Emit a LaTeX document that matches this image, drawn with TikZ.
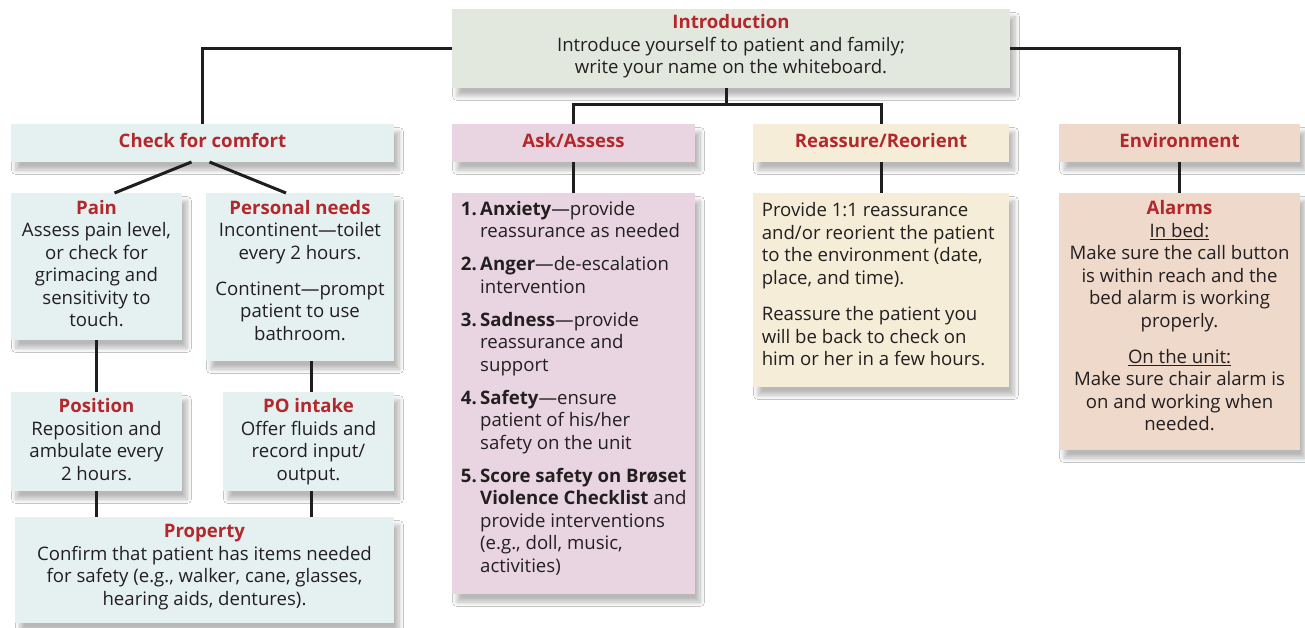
\documentclass[tikz,border=0pt]{standalone}
\usepackage{fontspec}
\setmainfont{Open Sans}
\usetikzlibrary{calc,shadows.blur}
\definecolor{txtc}{HTML}{231F20}
\definecolor{redc}{HTML}{B2282C}
\definecolor{introF}{HTML}{E3E8DF}
\definecolor{blueF}{HTML}{E5F1F1}
\definecolor{pinkF}{HTML}{E8D5E1}
\definecolor{creamF}{HTML}{F6EDD8}
\definecolor{peachF}{HTML}{EFD9CB}
\definecolor{lineC}{HTML}{1E1E1E}
\newcommand\hd[1]{\textcolor{redc}{\bfseries #1}}
\newcommand\nm[1]{\makebox[19.3pt][l]{\bfseries #1}}
\newcommand\ind{\hspace*{19.3pt}}
\newcommand\FCbox[6]{\node[box=#6, minimum width={(#4)-(#2)}, minimum height={(#5)-(#3)}] (#1) at ({((#2)+(#4))/2},{((#3)+(#5))/2}) {};}
\begin{document}
\begin{tikzpicture}[x=1pt,y=-1pt,
  box/.style={fill=#1, draw=none, inner sep=0pt, outer sep=0pt,
    blur shadow={shadow xshift=5pt, shadow yshift=-8pt, shadow blur radius=4.5pt, shadow blur steps=8, shadow opacity=28}},
  txt/.style={inner sep=0pt, text=txtc, font=\fontsize{18.6}{22.5}\selectfont, align=center},
  conn/.style={draw=lineC, line width=3pt}]
\useasboundingbox (0,0) rectangle (1305,628);
\fill[white] (0,0) rectangle (1305,628);
% boxes
\FCbox{intro}{452}{9}{1010}{88}{introF}
\FCbox{check}{11}{124}{394}{162}{blueF}
\FCbox{ask}{452}{124}{695}{162}{pinkF}
\FCbox{reass}{753}{124}{1009}{162}{creamF}
\FCbox{env}{1059}{124}{1300}{162}{peachF}
\FCbox{pain}{11}{193}{182}{340}{blueF}
\FCbox{pers}{206}{193}{394}{361}{blueF}
\FCbox{posn}{11}{392}{182}{491}{blueF}
\FCbox{po}{223}{392}{394}{491}{blueF}
\FCbox{prop}{15}{517}{394}{623}{blueF}
\FCbox{askc}{452}{193}{695}{594}{pinkF}
\FCbox{reassc}{753}{193}{1009}{387}{creamF}
\FCbox{envc}{1059}{193}{1300}{450}{peachF}
% connectors
\coordinate (jn) at (726.5,105);
\coordinate (poT) at ($(po.north)+(3,0)$);
\coordinate (poB) at ($(po.south)+(3,0)$);
\draw[conn] (intro.west) -| (check.north);
\draw[conn] (intro.east) -| (env.north);
\draw[conn] (intro.south -| jn) -- (jn);
\draw[conn] (ask.north) |- (jn) -| (reass.north);
\draw[conn] (ask.south) -- (askc.north);
\draw[conn] (reass.south) -- (reassc.north);
\draw[conn] (env.south) -- (envc.north);
\draw[conn] ($(check.south)+(-11,0)$) -- ($(pain.north)+(18,0)$);
\draw[conn] ($(check.south)+(7,0)$) -- ($(pers.north)+(-14,0)$);
\draw[conn] (pain.south) -- (posn.north);
\draw[conn] (posn.south) -- (posn.south |- prop.north);
\draw[conn] (poT |- pers.south) -- (poT);
\draw[conn] (poB) -- (poB |- prop.north);
% texts (anchor base = baseline of the last line)
\node[txt, anchor=base] (tintro) at (731,74) {\hd{Introduction}\\Introduce yourself to patient and family;\\write your name on the whiteboard.};
\node[txt, anchor=base] (tcheck) at (202.5,147.7) {\hd{Check for comfort}};
\node[txt, anchor=base] (task) at (573.5,147.7) {\hd{Ask/Assess}};
\node[txt, anchor=base] (treass) at (881,147.7) {\hd{Reassure/Reorient}};
\node[txt, anchor=base] (tenv) at (1179.5,147.7) {\hd{Environment}};
\node[txt, anchor=base] (tpain) at (96.5,326.7) {\hd{Pain}\\Assess pain level,\\or check for\\grimacing and\\sensitivity to\\touch.};
\node[txt, anchor=base] (tpers) at (300,340) {\hd{Personal needs}\\Incontinent—toilet\\every 2 hours.\\[13.5pt]Continent—prompt\\patient to use\\bathroom.};
\node[txt, anchor=base] (tposn) at (96.5,480) {\hd{Position}\\Reposition and\\ambulate every\\2 hours.};
\node[txt, anchor=base] (tpo) at (308.5,480) {\hd{PO intake}\\Offer fluids and\\record input/\\output.};
\node[txt, anchor=base] (tprop) at (204.5,605) {\hd{Property}\\Confirm that patient has items needed\\for safety (e.g., walker, cane, glasses,\\hearing aids, dentures).};
\node[txt, align=left, anchor=base west] (taskc) at (460.7,572.3) {%
\nm{1.}\textbf{Anxiety}—provide\\
\ind reassurance as needed\\[10.5pt]
\nm{2.}\textbf{Anger}—de-escalation\\
\ind intervention\\[10.5pt]
\nm{3.}\textbf{Sadness}—provide\\
\ind reassurance and\\
\ind support\\[10.5pt]
\nm{4.}\textbf{Safety}—ensure\\
\ind patient of his/her\\
\ind safety on the unit\\[10.5pt]
\nm{5.}\textbf{Score safety on Brøset}\\
\ind\textbf{Violence Checklist} and\\
\ind provide interventions\\
\ind (e.g., doll, music,\\
\ind activities)};
\node[txt, align=left, anchor=base west] (treassc) at (761.6,365.7) {Provide 1:1 reassurance\\and/or reorient the patient\\to the environment (date,\\place, and time).\\[14pt]Reassure the patient you\\will be back to check on\\him or her in a few hours.};
\node[txt, anchor=base] (tenvc) at (1179.5,430.7) {\hd{Alarms}\\\underline{In bed:}\\Make sure the call button\\is within reach and the\\bed alarm is working\\properly.\\[13.5pt]\underline{On the unit:}\\Make sure chair alarm is\\on and working when\\needed.};
\end{tikzpicture}
\end{document}
